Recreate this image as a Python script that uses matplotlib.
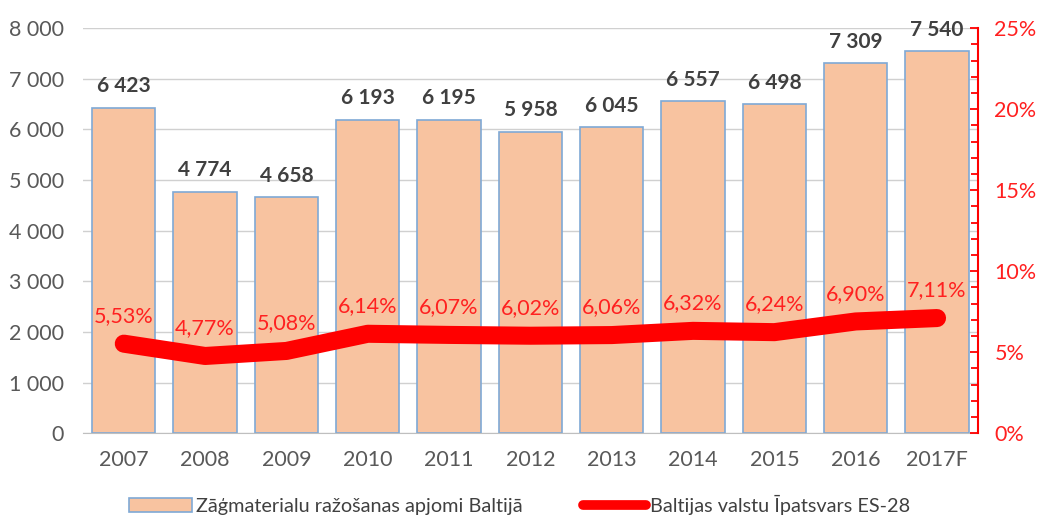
import matplotlib.pyplot as plt
from matplotlib.lines import Line2D
from matplotlib.ticker import MultipleLocator, FuncFormatter

years = ['2007', '2008', '2009', '2010', '2011', '2012', '2013', '2014', '2015', '2016', '2017F']
volume = [6423, 4774, 4658, 6193, 6195, 5958, 6045, 6557, 6498, 7309, 7540]
share = [5.53, 4.77, 5.08, 6.14, 6.07, 6.02, 6.06, 6.32, 6.24, 6.90, 7.11]

bar_name = 'Zāģmaterialu ražošanas apjomi Baltijā'
line_name = 'Baltijas valstu Īpatsvars ES-28'

plt.rcParams['font.family'] = ['Lato', 'DejaVu Sans']

fig = plt.figure(figsize=(10.39, 5.22), dpi=100)
ax = fig.add_axes([0.080, 0.170, 0.861, 0.776])
x = range(len(years))

bars = ax.bar(x, volume, width=0.78, color='#f8c3a0', edgecolor='#7fa9d6',
              linewidth=1.2, label=bar_name, zorder=2)
for xi, v in zip(x, volume):
    ax.text(xi, v + 230, f'{v:,}'.replace(',', ' '), ha='center', va='bottom',
            fontsize=15, fontweight='bold', color='#404040')

ax.set_ylim(0, 8000)
ax.set_xlim(-0.5, len(years) - 0.5)
ax.yaxis.set_major_locator(MultipleLocator(1000))
ax.yaxis.set_major_formatter(FuncFormatter(lambda v, p: f'{int(v):,}'.replace(',', ' ')))
ax.grid(axis='y', color='#d0d0d0', linewidth=1, zorder=0)
ax.set_axisbelow(True)
for s in ['left', 'right', 'top']:
    ax.spines[s].set_visible(False)
ax.spines['bottom'].set_color('#bfbfbf')
ax.tick_params(axis='y', length=0, labelsize=15.5, labelcolor='#595959', pad=14)
ax.tick_params(axis='x', length=0, labelsize=15.5, labelcolor='#595959', pad=12)
ax.set_xticks(list(x))
ax.set_xticklabels(years)

ax2 = ax.twinx()
ax2.plot(list(x), share, color='#ff0000', linewidth=13, solid_capstyle='round',
         solid_joinstyle='round', zorder=3)
for xi, v in zip(x, share):
    ax2.text(xi, v + 1.1, f'{v:.2f}%'.replace('.', ','), ha='center', va='bottom',
             fontsize=15.5, color='#ff2020')
ax2.set_ylim(0, 25)
ax2.set_xlim(-0.5, len(years) - 0.5)
ax2.yaxis.set_major_locator(MultipleLocator(5))
ax2.yaxis.set_minor_locator(MultipleLocator(1))
ax2.yaxis.set_major_formatter(FuncFormatter(lambda v, p: f'{int(v)}%'))
for s in ['left', 'top', 'bottom']:
    ax2.spines[s].set_visible(False)
ax2.spines['right'].set_color('#ff0000')
ax2.spines['right'].set_linewidth(1.5)
ax2.tick_params(axis='y', which='major', direction='in', length=6, color='#ff0000',
                labelsize=15.5, labelcolor='#ff2020', pad=12, width=1.3)
ax2.tick_params(axis='y', which='minor', direction='in', length=5, color='#ff0000', width=1.3)

line_handle = Line2D([], [], color='#ff0000', linewidth=7, solid_capstyle='round')
fig.legend([bars, line_handle], [bar_name, line_name], loc='lower center', ncol=2,
           frameon=False, fontsize=14.3, bbox_to_anchor=(0.5, -0.02), handlelength=3.2,
           handletextpad=0.2, columnspacing=3.0, labelcolor='#404040')

fig.savefig('out.png', dpi=100)
